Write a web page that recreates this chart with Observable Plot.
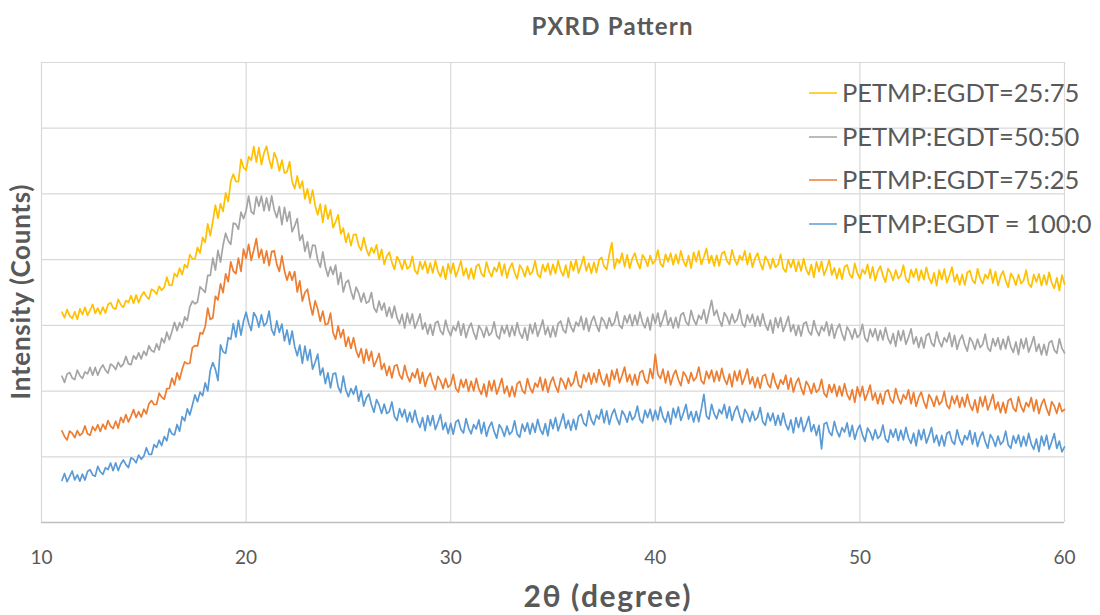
<!DOCTYPE html>
<html>
<head>
<meta charset="utf-8">
<script src="https://cdn.jsdelivr.net/npm/d3@7"></script>
<script src="https://cdn.jsdelivr.net/npm/@observablehq/plot@0.6"></script>
<style>
  html, body { margin: 0; padding: 0; background: #fff; }
  #chart { width: 1100px; height: 615px; }
</style>
</head>
<body>
<div id="chart"></div>
<script>
// Diffractometer scan grid: 2θ from 11° to 60° in 0.125° steps
const thetaStart = 11;
const thetaStep = 0.125;

// Intensity (counts), eight steps per degree row (row label = starting degree)
const petmp25 = [
  1600,1558,1621,1574,1552,1604,1547,1625, // 11
  1583,1637,1576,1615,1659,1592,1631,1585, // 12
  1639,1594,1659,1673,1633,1623,1698,1657, // 13
  1637,1689,1675,1727,1669,1730,1672,1723, // 14
  1755,1720,1699,1774,1763,1738,1797,1767, // 15
  1790,1867,1806,1805,1895,1870,1935,1886, // 16
  1963,1938,2038,2007,2005,2094,2050,2169, // 17
  2131,2272,2183,2294,2415,2315,2426,2367, // 18
  2508,2442,2596,2651,2595,2594,2763,2701, // 19
  2680,2783,2756,2860,2743,2853,2723,2813, // 20
  2863,2764,2694,2815,2765,2676,2757,2658, // 21
  2669,2746,2593,2540,2637,2542,2598,2463, // 22
  2538,2429,2530,2411,2342,2423,2284,2415, // 23
  2309,2380,2244,2288,2341,2196,2240,2131, // 24
  2200,2107,2190,2192,2107,2070,2169,2083, // 25
  2030,2092,2051,2113,2000,2078,1964,2027, // 26
  2057,1979,1926,2024,1987,1925,1999,1930, // 27
  1948,2025,1918,1891,1985,1926,1987,1896, // 28
  1973,1899,1993,1911,1870,1948,1850,1968, // 29
  1894,1974,1870,1926,1990,1878,1934,1854, // 30
  1934,1854,1950,1966,1894,1870,1982,1910, // 31
  1870,1942,1910,1982,1878,1966,1862,1934, // 32
  1974,1902,1854,1958,1926,1870,1950,1886, // 33
  1910,1991,1887,1864,1962,1908,1972,1884, // 34
  1965,1895,1993,1915,1877,1958,1864,1986, // 35
  1916,1999,1898,1957,2024,1914,1973,1896, // 36
  1979,1901,1999,2017,1947,1925,2039,2130, // 37
  1931,2005,1975,2049,1947,2036,1934,2008, // 38
  2050,1979,1932,2037,2006,1950,2031,1968, // 39
  1993,2073,1969,1945,2041,1985,2049,1961, // 40
  2041,1970,2067,1988,1949,2030,1935,2056, // 41
  1985,2066,1963,2020,2085,1974,2031,1952, // 42
  2033,1952,2047,2062,1989,1964,2075,2002, // 43
  1961,2031,1997,2067,1962,2048,1942,2012, // 44
  2050,1975,1924,2025,1991,1932,2009,1942, // 45
  1963,2040,1933,1906,2000,1941,2002,1911, // 46
  1988,1914,2008,1926,1885,1963,1865,1983, // 47
  1909,1987,1881,1935,1998,1884,1938,1856, // 48
  1934,1852,1946,1960,1887,1861,1971,1897, // 49
  1855,1926,1893,1964,1859,1946,1841,1912, // 50
  1951,1878,1829,1932,1899,1842,1921,1856, // 51
  1879,1958,1853,1828,1924,1867,1930,1841, // 52
  1920,1847,1942,1861,1820,1900,1803,1921, // 53
  1848,1928,1824,1880,1944,1832,1888,1808, // 54
  1888,1807,1902,1917,1844,1819,1930,1858, // 55
  1817,1888,1855,1927,1821,1909,1804,1874, // 56
  1913,1840,1791,1895,1862,1806,1886,1818, // 57
  1841,1920,1816,1792,1887,1830,1891,1802, // 58
  1882,1809,1904,1823,1782,1862,1765,1883, // 59
  1815                                     // 60
];
const petmp50 = [
  1113,1066,1129,1142,1100,1087,1160,1118, // 11
  1096,1146,1131,1180,1120,1180,1120,1169, // 12
  1199,1160,1136,1206,1192,1163,1219,1184, // 13
  1205,1264,1207,1201,1269,1243,1291,1245, // 14
  1303,1271,1345,1308,1297,1360,1313,1402, // 15
  1367,1448,1391,1454,1523,1459,1522,1483, // 16
  1564,1536,1641,1685,1664,1678,1794,1773, // 17
  1751,1881,1881,2011,1921,2071,1981,2111, // 18
  2201,2143,2116,2278,2270,2231,2361,2312, // 19
  2372,2484,2365,2347,2478,2406,2484,2372, // 20
  2470,2373,2485,2378,2320,2403,2266,2398, // 21
  2291,2366,2212,2257,2312,2146,2189,2063, // 22
  2136,2013,2110,2107,1995,1942,2059,1946, // 23
  1873,1945,1887,1959,1811,1902,1754,1826, // 24
  1844,1760,1699,1791,1747,1678,1746,1669, // 25
  1681,1750,1634,1599,1684,1616,1669,1569, // 26
  1638,1558,1647,1559,1512,1584,1480,1593, // 27
  1513,1587,1478,1528,1587,1469,1519,1434, // 28
  1508,1425,1518,1531,1457,1430,1539,1464, // 29
  1421,1492,1459,1530,1425,1512,1407,1478, // 30
  1517,1444,1395,1498,1466,1409,1488,1423, // 31
  1446,1526,1422,1398,1494,1438,1502,1414, // 32
  1494,1423,1520,1441,1402,1482,1387,1508, // 33
  1437,1519,1417,1475,1541,1430,1488,1410, // 34
  1492,1415,1514,1533,1464,1442,1557,1488, // 35
  1451,1525,1495,1569,1467,1556,1454,1528, // 36
  1570,1500,1454,1560,1530,1476,1558,1496, // 37
  1522,1603,1500,1477,1573,1518,1583,1496, // 38
  1577,1505,1601,1521,1481,1561,1465,1585, // 39
  1513,1594,1491,1548,1613,1502,1559,1480, // 40
  1561,1482,1579,1596,1525,1501,1614,1543, // 41
  1504,1577,1546,1619,1516,1605,1690,1575, // 42
  1616,1543,1494,1597,1564,1507,1586,1521, // 43
  1544,1621,1515,1488,1581,1522,1584,1493, // 44
  1570,1495,1588,1505,1463,1540,1441,1558, // 45
  1483,1560,1453,1506,1568,1453,1506,1423, // 46
  1500,1418,1512,1526,1453,1427,1537,1463, // 47
  1421,1491,1457,1527,1422,1508,1402,1472, // 48
  1510,1436,1386,1488,1454,1396,1474,1408, // 49
  1430,1508,1402,1376,1471,1413,1475,1385, // 50
  1463,1389,1483,1401,1360,1438,1340,1458, // 51
  1384,1462,1356,1410,1473,1359,1413,1331, // 52
  1409,1328,1423,1438,1365,1340,1451,1378, // 53
  1337,1407,1373,1443,1338,1424,1318,1388, // 54
  1426,1353,1304,1407,1374,1317,1396,1331, // 55
  1354,1433,1328,1303,1399,1342,1405,1316, // 56
  1395,1322,1417,1336,1295,1374,1277,1396, // 57
  1323,1402,1297,1352,1415,1302,1357,1276, // 58
  1355,1274,1369,1384,1312,1287,1398,1325, // 59
  1290                                     // 60
];
const petmp75 = [
  697,655,628,696,679,646,699,662,         // 11
  680,735,675,664,729,699,744,693,         // 12
  748,710,776,733,715,771,718,799,         // 13
  761,821,765,810,859,799,843,803,         // 14
  862,827,903,928,898,898,984,954,         // 15
  938,1018,1020,1099,1047,1139,1087,1166,  // 16
  1222,1208,1212,1330,1346,1343,1443,1435, // 17
  1489,1632,1545,1558,1721,1693,1816,1749, // 18
  1892,1832,1983,1913,1893,2012,1911,2080, // 19
  2009,2117,1995,2072,2160,2014,2079,1973, // 20
  2067,1954,2061,2067,1964,1911,2029,1916, // 21
  1843,1908,1844,1909,1754,1839,1685,1750, // 22
  1775,1662,1579,1686,1624,1531,1608,1505, // 23
  1512,1593,1444,1395,1496,1407,1468,1339, // 24
  1410,1324,1406,1311,1257,1323,1213,1318, // 25
  1232,1302,1187,1233,1286,1164,1209,1119, // 26
  1188,1101,1191,1200,1122,1091,1196,1118, // 27
  1071,1138,1102,1169,1060,1143,1035,1102, // 28
  1137,1062,1011,1112,1078,1019,1096,1029, // 29
  1050,1127,1020,993,1087,1028,1089,998,   // 30
  1075,1002,1097,1016,975,1054,957,1076,   // 31
  1003,1082,977,1032,1096,983,1038,957,    // 32
  1036,958,1056,1074,1004,981,1095,1025,   // 33
  987,1061,1031,1105,1003,1092,990,1064,   // 34
  1106,1037,992,1099,1070,1016,1099,1038,  // 35
  1065,1148,1047,1026,1125,1071,1138,1053, // 36
  1136,1066,1164,1086,1048,1129,1035,1157, // 37
  1087,1167,1063,1119,1183,1071,1127,1047, // 38
  1127,1046,1141,1156,1083,1058,1169,1096, // 39
  1280,1127,1095,1167,1063,1151,1047,1119, // 40
  1159,1088,1041,1146,1115,1060,1141,1078, // 41
  1103,1183,1079,1055,1151,1095,1159,1071, // 42
  1151,1078,1173,1092,1051,1130,1033,1152, // 43
  1079,1157,1051,1105,1168,1054,1108,1026, // 44
  1104,1021,1114,1127,1053,1026,1135,1060, // 45
  1017,1086,1052,1121,1014,1099,993,1062,  // 46
  1099,1024,973,1074,1040,981,1058,991,    // 47
  1012,1089,982,955,1049,990,1051,960,     // 48
  1037,963,1057,975,934,1012,914,1032,     // 49
  958,1036,930,984,1046,932,986,904,       // 50
  982,900,994,1008,935,909,1019,945,       // 51
  903,973,939,1009,904,990,884,954,        // 52
  992,919,870,973,940,883,962,897,         // 53
  920,998,892,866,961,903,965,875,         // 54
  953,880,975,894,854,933,836,955,         // 55
  882,961,856,911,974,861,916,835,         // 56
  914,833,928,943,870,845,956,883,         // 57
  842,913,880,951,847,934,829,900,         // 58
  939,866,817,920,887,830,909,844,         // 59
  860                                      // 60
];
const petmp100 = [
  320,373,311,349,392,324,362,315,         // 11
  368,323,388,402,362,352,427,386,         // 12
  366,417,402,453,394,454,395,445,         // 13
  476,440,418,492,481,454,513,481,         // 14
  505,569,519,518,592,571,626,585,         // 15
  654,621,714,675,666,746,695,806,         // 16
  773,865,818,892,971,919,992,964,         // 17
  1063,1001,1159,1217,1165,1080,1351,1299, // 18
  1287,1406,1394,1513,1411,1538,1426,1533, // 19
  1600,1516,1461,1597,1562,1487,1581,1496, // 20
  1520,1609,1467,1426,1534,1447,1510,1382, // 21
  1465,1356,1457,1338,1269,1350,1211,1342, // 22
  1233,1315,1167,1219,1281,1123,1175,1057, // 23
  1139,1025,1131,1136,1032,988,1114,1009,  // 24
  957,1019,976,1038,923,1001,886,948,      // 25
  977,896,840,935,895,830,901,829,         // 26
  844,917,807,776,866,803,860,766,         // 27
  839,762,854,769,724,799,699,814,         // 28
  737,814,707,760,822,707,760,677,         // 29
  754,672,766,780,707,681,791,717,         // 30
  675,745,711,781,676,762,656,726,         // 31
  764,691,642,745,712,655,734,669,         // 32
  692,774,672,650,748,693,759,673,         // 33
  755,686,785,708,671,753,660,783,         // 34
  714,798,698,758,826,717,777,701,         // 35
  785,708,807,825,756,735,850,780,         // 36
  743,817,787,861,759,849,747,821,         // 37
  863,792,745,850,818,763,844,781,         // 38
  806,886,782,758,854,798,862,774,         // 39
  854,783,880,801,762,843,748,869,         // 40
  798,879,776,833,898,787,844,765,         // 41
  846,767,864,975,809,786,899,828,         // 42
  789,860,827,898,794,881,776,847,         // 43
  886,811,760,861,827,768,845,778,         // 44
  799,875,767,739,832,772,832,740,         // 45
  816,740,833,749,705,781,682,798,         // 46
  722,799,692,745,807,692,745,662,         // 47
  739,560,749,762,688,661,770,695,         // 48
  652,722,688,758,653,739,633,703,         // 49
  741,667,617,719,686,628,706,640,         // 50
  662,741,636,611,706,649,712,623,         // 51
  702,629,724,643,602,681,584,703,         // 52
  630,709,604,659,723,610,665,584,         // 53
  663,582,677,692,619,594,705,632,         // 54
  591,662,629,700,596,683,578,649,         // 55
  688,615,566,669,636,579,658,593,         // 56
  616,695,590,565,660,603,666,577,         // 57
  656,583,678,597,557,636,539,658,         // 58
  585,664,557,614,677,564,619,538,         // 59
  575                                      // 60
];

const seriesNames = ["PETMP:EGDT=25:75", "PETMP:EGDT=50:50", "PETMP:EGDT=75:25", "PETMP:EGDT = 100:0"];
const seriesValues = [petmp25, petmp50, petmp75, petmp100];
const seriesColors = ["#FFC000", "#A5A5A5", "#ED7D31", "#5B9BD5"];

const xTicks = [10, 20, 30, 40, 50, 60];
const yGrid = [0, 500, 1000, 1500, 2000, 2500, 3000, 3500];

const titleText = "PXRD Pattern";
const xLabel = "2θ (degree)";
const yLabel = "Intensity (Counts)";

// Long-format rows for Plot
const rows = seriesNames.flatMap((name, s) =>
  seriesValues[s].map((v, i) => ({series: name, theta: thetaStart + i * thetaStep, counts: v}))
);

// Draw series 100:0 first so 25:75 lands on top
const drawOrder = [3, 2, 1, 0];

const font = "Lato, 'Open Sans', sans-serif";
const ink = "#595959";

const svg = Plot.plot({
  width: 1100,
  height: 615,
  marginTop: 62,
  marginBottom: 93,
  marginLeft: 41,
  marginRight: 36,
  style: {fontFamily: font, color: ink, background: "#fff", overflow: "visible"},
  x: {domain: [10, 60]},
  y: {domain: [0, 3500], axis: null},
  marks: [
    Plot.gridX(xTicks, {stroke: "#d9d9d9", strokeOpacity: 1, strokeWidth: 1.2}),
    Plot.gridY(yGrid, {stroke: "#d9d9d9", strokeOpacity: 1, strokeWidth: 1.2}),
    Plot.ruleY([0], {stroke: "#bfbfbf", strokeWidth: 1.3}),
    Plot.axisX(xTicks, {tickSize: 0, tickPadding: 28, fontSize: 19, label: null, fill: ink}),
    ...drawOrder.map(s =>
      Plot.line(rows.filter(d => d.series === seriesNames[s]), {
        x: "theta", y: "counts", stroke: seriesColors[s], strokeWidth: 1.7, strokeLinejoin: "round"
      })
    )
  ]
});

const g = d3.select(svg);

// Chart title
g.append("text")
  .attr("x", 612).attr("y", 35)
  .attr("text-anchor", "middle")
  .attr("font-family", font).attr("font-size", 24).attr("font-weight", 700)
  .attr("textLength", 161).attr("lengthAdjust", "spacing")
  .attr("fill", ink)
  .text(titleText);

// Axis titles
g.append("text")
  .attr("x", 607).attr("y", 607)
  .attr("text-anchor", "middle")
  .attr("font-family", font).attr("font-size", 30).attr("font-weight", 700)
  .attr("textLength", 167).attr("lengthAdjust", "spacing")
  .attr("fill", ink)
  .text(xLabel);

g.append("text")
  .attr("transform", "translate(30,292) rotate(-90)")
  .attr("text-anchor", "middle")
  .attr("font-family", font).attr("font-size", 26).attr("font-weight", 700)
  .attr("textLength", 215).attr("lengthAdjust", "spacing")
  .attr("fill", ink)
  .text(yLabel);

// Legend, top right inside the plot area
const legendY = [93, 137, 180, 224];
const legend = g.append("g")
  .attr("font-family", font).attr("font-size", 25.5)
  .attr("text-anchor", "start").attr("fill", ink);
seriesNames.forEach((name, s) => {
  legend.append("line")
    .attr("x1", 809).attr("x2", 837)
    .attr("y1", legendY[s]).attr("y2", legendY[s])
    .attr("stroke", seriesColors[s]).attr("stroke-width", 1.5);
  legend.append("text")
    .attr("x", 842).attr("y", legendY[s] + 9)
    .text(name);
});

document.getElementById("chart").appendChild(svg);
</script>
</body>
</html>
